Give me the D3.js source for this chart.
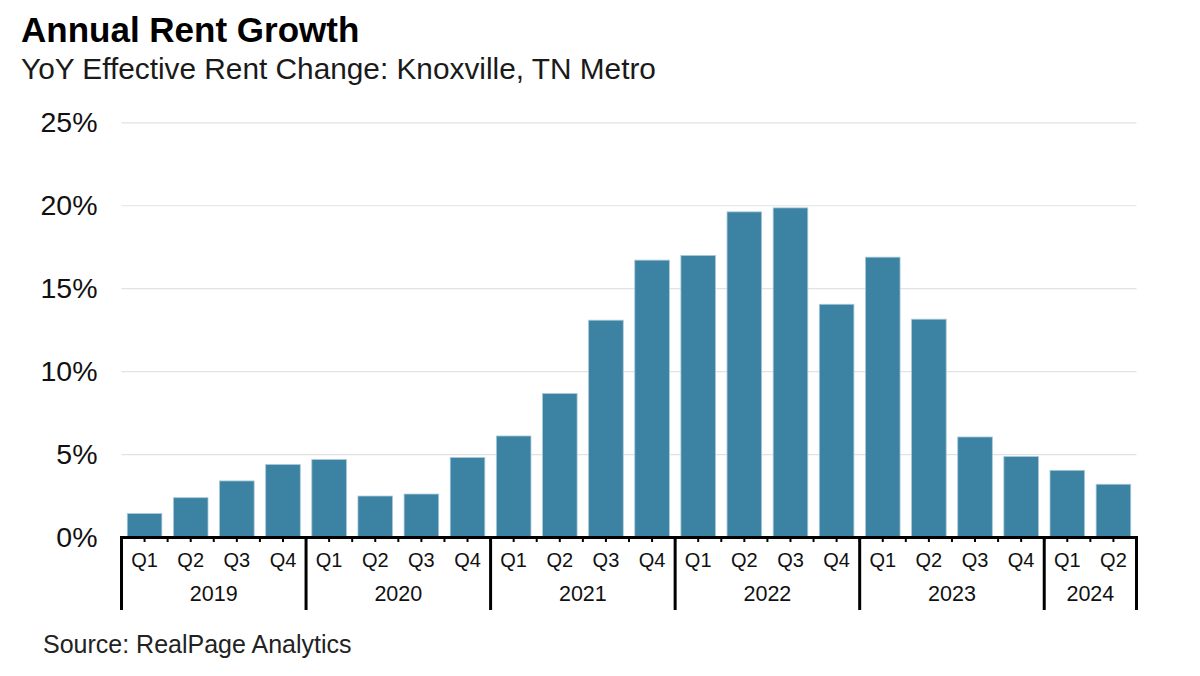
<!DOCTYPE html>
<html>
<head>
<meta charset="utf-8">
<script src="https://cdn.jsdelivr.net/npm/d3@7"></script>
<style>
  html, body { margin: 0; padding: 0; background: #ffffff; }
  svg { display: block; font-family: "Liberation Sans", Arial, Helvetica, sans-serif; }
</style>
</head>
<body>
<svg id="chart" width="1200" height="676"></svg>
<script>
// ---- Data ----
const years = ["2019", "2020", "2021", "2022", "2023", "2024"];
const quartersPerYear = [4, 4, 4, 4, 4, 2];
const quarterLabels = ["Q1", "Q2", "Q3", "Q4"];
const rentGrowth = [
  1.41, 2.37, 3.38, 4.37,
  4.67, 2.47, 2.59, 4.79,
  6.09, 8.65, 13.07, 16.69,
  16.97, 19.60, 19.84, 14.03,
  16.87, 13.13, 6.03, 4.85,
  4.02, 3.18
];
const yTicks = [0, 5, 10, 15, 20, 25];

// build per-bar records
const bars = [];
years.forEach((yr, yi) => {
  for (let q = 0; q < quartersPerYear[yi]; q++) {
    bars.push({ year: yr, quarter: quarterLabels[q], value: rentGrowth[bars.length], idx: bars.length });
  }
});

const svg = d3.select("#chart");
const plotLeft = 121.5, plotRight = 1136.5, plotTop = 122.3, plotBottom = 537;

const x = d3.scaleBand()
  .domain(bars.map(d => d.idx))
  .range([plotLeft, plotRight])
  .paddingInner(0.25)
  .paddingOuter(0.125);
const step = x.step();
const y = d3.scaleLinear().domain([0, 25]).range([plotBottom, plotTop]);

// Title and subtitle
svg.append("text").attr("x", 21).attr("y", 42)
  .attr("font-size", 35).attr("font-weight", "bold").attr("fill", "#000")
  .text("Annual Rent Growth");
svg.append("text").attr("x", 21).attr("y", 79)
  .attr("font-size", 29.8).attr("fill", "#1a1a1a")
  .text("YoY Effective Rent Change: Knoxville, TN Metro");

// Gridlines + y labels
const yAxis = d3.axisLeft(y)
  .tickValues(yTicks)
  .tickSize(-(plotRight - plotLeft))
  .tickFormat(d => d + "%");
const gy = svg.append("g").attr("transform", `translate(${plotLeft},0)`).call(yAxis);
gy.select(".domain").remove();
gy.selectAll(".tick line").attr("stroke", "#e2e2e2").attr("stroke-width", 1.2);
gy.selectAll(".tick text")
  .attr("x", -24).attr("font-size", 28.5).attr("fill", "#111")
  .attr("font-family", "'Liberation Sans', Arial, sans-serif");

// Bars
svg.append("g").selectAll("rect").data(bars).join("rect")
  .attr("x", d => x(d.idx))
  .attr("y", d => y(d.value))
  .attr("width", x.bandwidth())
  .attr("height", d => y(0) - y(d.value))
  .attr("fill", "#3c82a3")
  .attr("stroke", "#a9c9d9")
  .attr("stroke-width", 0.8);

// Small ticks at band centers and boundaries
const tickG = svg.append("g");
bars.forEach(d => {
  const c = x(d.idx) + x.bandwidth() / 2;
  const b = x(d.idx) - step * x.paddingInner() / 2;
  tickG.append("line").attr("x1", c).attr("x2", c).attr("y1", plotBottom).attr("y2", plotBottom + 5)
    .attr("stroke", "#000").attr("stroke-width", 2);
  if (d.idx > 0) {
    tickG.append("line").attr("x1", b).attr("x2", b).attr("y1", plotBottom).attr("y2", plotBottom + 5)
      .attr("stroke", "#000").attr("stroke-width", 2);
  }
});

// Quarter labels
svg.append("g").selectAll("text").data(bars).join("text")
  .attr("x", d => x(d.idx) + x.bandwidth() / 2)
  .attr("y", 566.5)
  .attr("text-anchor", "middle")
  .attr("font-size", 20).attr("fill", "#111")
  .text(d => d.quarter);

// Year dividers and labels
let start = 0;
const dividers = [plotLeft];
years.forEach((yr, yi) => {
  const n = quartersPerYear[yi];
  const x0 = plotLeft + start * step;
  const x1 = plotLeft + (start + n) * step;
  dividers.push(x1);
  svg.append("text")
    .attr("x", (x0 + x1) / 2).attr("y", 601)
    .attr("text-anchor", "middle").attr("font-size", 21.5).attr("fill", "#111")
    .text(yr);
  start += n;
});
svg.append("g").selectAll("line").data(dividers).join("line")
  .attr("x1", d => d).attr("x2", d => d)
  .attr("y1", plotBottom).attr("y2", 610)
  .attr("stroke", "#000").attr("stroke-width", 3);

// Axis line
svg.append("line")
  .attr("x1", plotLeft - 1.5).attr("x2", plotRight + 1.5)
  .attr("y1", plotBottom + 0.5).attr("y2", plotBottom + 0.5)
  .attr("stroke", "#000").attr("stroke-width", 3);

// Source
svg.append("text").attr("x", 43).attr("y", 652.5)
  .attr("font-size", 25).attr("fill", "#222")
  .text("Source: RealPage Analytics");
</script>
</body>
</html>
